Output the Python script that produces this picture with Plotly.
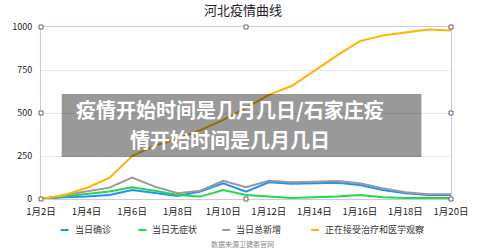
import plotly.graph_objects as go

dates = ["1月2日", "1月3日", "1月4日", "1月5日", "1月6日", "1月7日", "1月8日", "1月9日",
         "1月10日", "1月11日", "1月12日", "1月13日", "1月14日", "1月15日", "1月16日",
         "1月17日", "1月18日", "1月19日", "1月20日"]
tick_labels = ["1月2日", "1月4日", "1月6日", "1月8日", "1月10日", "1月12日", "1月14日",
               "1月16日", "1月18日", "1月20日"]

confirmed = [0, 10, 14, 23, 52, 33, 17, 43, 91, 43, 97, 88, 91, 95, 81, 52, 33, 23, 23]
asymptomatic = [0, 14, 27, 43, 68, 48, 23, 14, 52, 23, 14, 6, 10, 14, 23, 10, 6, 6, 6]
total_new = [0, 23, 42, 66, 124, 72, 33, 48, 106, 68, 106, 97, 101, 105, 91, 62, 39, 27, 27]
under_treatment = [0, 22, 64, 122, 250, 310, 350, 400, 460, 530, 605, 657, 745, 835, 918,
                   950, 968, 985, 980]

series_names = ["当日确诊", "当日无症状", "当日总新增", "正在接受治疗和医学观察"]
series_values = [confirmed, asymptomatic, total_new, under_treatment]
series_colors = ["#1e90ff", "#22d84a", "#999999", "#ffb400"]

title_text = "河北疫情曲线"
overlay_lines = ["疫情开始时间是几月几日/石家庄疫", "情开始时间是几月几日"]
source_text = "数据来源卫健委官网"

W, H = 480, 252
L, R, T, B = 36, 452, 27, 199
FONT = "Noto Sans CJK SC"


def px(x):
    return (x - L) / (R - L)


def py(y):
    return (B - y) / (B - T)


fig = go.Figure()
for name, vals, col in zip(series_names, series_values, series_colors):
    fig.add_trace(go.Scatter(x=dates, y=vals, name=name, mode="lines",
                             line=dict(color=col, width=2), showlegend=False))

fig.update_layout(
    width=W, height=H,
    margin=dict(l=L, r=W - R, t=T, b=H - B),
    paper_bgcolor="white", plot_bgcolor="white",
    font=dict(family=FONT, size=9, color="#333333"),
    title=dict(text=title_text, x=(243) / W, xanchor="center", y=1 - 10 / H, yanchor="middle",
               font=dict(size=13, color="#222222", family=FONT)),
)
fig.update_xaxes(type="category", range=[0, len(dates) - 1], tickvals=tick_labels,
                 ticktext=tick_labels, showgrid=False, showline=True, mirror=True,
                 linecolor="#c5cbef", linewidth=1, ticks="", ticklabelstandoff=4,
                 tickfont=dict(size=9.5, color="#222222"), zeroline=False)
fig.update_yaxes(range=[0, 1000], tickvals=[0, 250, 500, 750, 1000], showgrid=True,
                 gridcolor="#e8e8e8", showline=True, mirror=True, linecolor="#c5cbef",
                 linewidth=1, ticks="", ticklabelstandoff=6, zeroline=False,
                 tickfont=dict(size=9, color="#222222"))

shapes = []
# selection handles
for hx, hy in [(L, T), (L, (T + B) / 2), (L, B), (R, T), (R, (T + B) / 2), (R, B),
               (244, T), (244, B)]:
    shapes.append(dict(type="rect", xref="paper", yref="paper", xsizemode="pixel",
                       ysizemode="pixel", xanchor=px(hx), yanchor=py(hy),
                       x0=-2, x1=2, y0=-2, y1=2, line=dict(color="#666666", width=1),
                       fillcolor="white", layer="above"))
# overlay box
shapes.append(dict(type="rect", xref="paper", yref="paper", x0=px(57), x1=px(422),
                   y0=py(157), y1=py(94), fillcolor="rgba(0,0,0,0.4)", line=dict(width=0),
                   layer="above"))

annotations = []
for line_text, ly in zip(overlay_lines, [109.5, 139]):
    annotations.append(dict(text=line_text, xref="paper", yref="paper", x=px(228), y=py(ly),
                            xanchor="center", yanchor="middle", showarrow=False,
                            font=dict(size=20, color="white", family=FONT, weight="bold")))

# manual legend
leg_dash_x = [56, 135, 220, 310]
leg_y = 230
for name, col, dx in zip(series_names, series_colors, leg_dash_x):
    shapes.append(dict(type="line", xref="paper", yref="paper", x0=px(dx), x1=px(dx + 8),
                       y0=py(leg_y), y1=py(leg_y), line=dict(color=col, width=2)))
    annotations.append(dict(text=name, xref="paper", yref="paper", x=px(dx + 12), y=py(leg_y),
                            xanchor="left", yanchor="middle", showarrow=False,
                            font=dict(size=9, color="#333333", family=FONT)))

annotations.append(dict(text=source_text, xref="paper", yref="paper", x=px(240), y=py(244),
                        xanchor="center", yanchor="middle", showarrow=False,
                        font=dict(size=7, color="#888888", family=FONT)))

fig.update_layout(shapes=shapes, annotations=annotations)
fig.write_html("out.html")
